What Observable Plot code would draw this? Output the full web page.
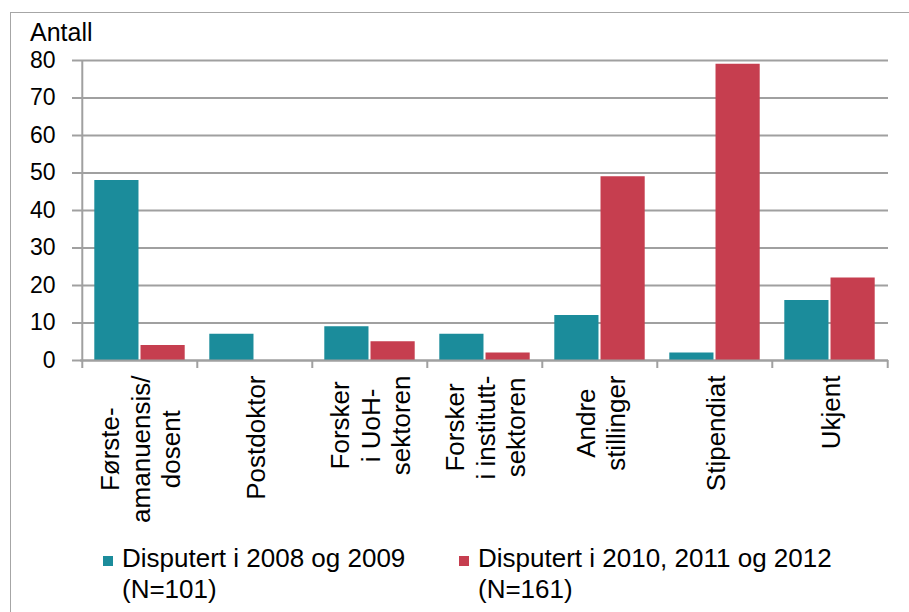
<!DOCTYPE html>
<html>
<head>
<meta charset="utf-8">
<script src="https://cdn.jsdelivr.net/npm/d3@7"></script>
<script src="https://cdn.jsdelivr.net/npm/@observablehq/plot@0.6"></script>
<style>
  html, body { margin: 0; padding: 0; background: #fff; }
  body { width: 909px; height: 612px; position: relative; overflow: hidden;
         font-family: "Liberation Sans", Arial, sans-serif; color: #000; }
  #frame { position: absolute; left: 10px; top: 12px; width: 920px; height: 620px;
           border-left: 1.5px solid #a6a6a6; border-top: 1.5px solid #a6a6a6; }
  #chart { position: absolute; left: 0; top: 0; }
  #chart svg { overflow: visible; }
  #ylabel { position: absolute; left: 30px; top: 23px; font-size: 25px; line-height: 18px; }
  .leg { position: absolute; top: 543px; display: flex; align-items: flex-start; }
  .leg .sw { width: 10px; height: 10px; margin-top: 13px; margin-right: 9px; }
  .leg .tx { font-size: 26px; line-height: 31px; white-space: pre-line; }
</style>
</head>
<body>
<div id="frame"></div>
<div id="chart"></div>
<div id="ylabel">Antall</div>
<div id="legend"></div>
<script>
// ---- data ----
const categories = [
  "Første-\namanuensis/\ndosent",
  "Postdoktor",
  "Forsker\ni UoH-\nsektoren",
  "Forsker\ni institutt-\nsektoren",
  "Andre\nstillinger",
  "Stipendiat",
  "Ukjent"
];
const seriesNames = ["Disputert i 2008 og 2009\n(N=101)", "Disputert i 2010, 2011 og 2012\n(N=161)"];
const values2008_2009 = [48, 7, 9, 7, 12, 2, 16];
const values2010_2012 = [4, 0, 5, 2, 49, 79, 22];
const yTicks = [0, 10, 20, 30, 40, 50, 60, 70, 80];
const colors = ["#1b8c9b", "#c63e4f"];

// ---- layout ----
const FONT = '"Liberation Sans", Arial, sans-serif';
const GRID = "#a0a0a0";
const W = 909, H = 540, mL = 80, mR = 21, mT = 60, mB = 180;
const step = (W - mL - mR) / categories.length;
const outerPad = 12.3, gap = 0.8;

const rows = categories.flatMap((c, i) => [
  {cat: c, s: seriesNames[0], v: values2008_2009[i]},
  {cat: c, s: seriesNames[1], v: values2010_2012[i]}
]);

const ctx = document.createElement("canvas").getContext("2d");
ctx.font = `26px ${FONT}`;
const longest = (t) => Math.max(...t.split("\n").map(l => ctx.measureText(l).width));

const labelMarks = categories.map(c => Plot.text([c], {
  x: d => d, text: d => d, frameAnchor: "bottom", rotate: -90,
  textAnchor: "middle", lineAnchor: "middle", lineHeight: 1.17,
  fontSize: 26, fill: "#000", dy: 15 + longest(c) / 2
}));

const chart = Plot.plot({
  width: W, height: H, marginLeft: mL, marginRight: mR, marginTop: mT, marginBottom: mB,
  style: {fontFamily: FONT, fontSize: "23px", color: "#000", background: "transparent", overflow: "visible"},
  x: {domain: categories, padding: 0, axis: null},
  y: {domain: [0, 80], axis: null},
  color: {domain: seriesNames, range: colors},
  marks: [
    Plot.gridY(yTicks, {stroke: GRID, strokeOpacity: 1, strokeWidth: 2}),
    Plot.axisY(yTicks, {tickSize: 8, tickPadding: 17, stroke: GRID, strokeWidth: 2, fontSize: 23, label: null}),
    Plot.barY(rows.filter(d => d.s === seriesNames[0]), {x: "cat", y: "v", fill: "s",
      insetLeft: outerPad, insetRight: step / 2 + gap}),
    Plot.barY(rows.filter(d => d.s === seriesNames[1]), {x: "cat", y: "v", fill: "s",
      insetLeft: step / 2 + gap, insetRight: outerPad}),
    Plot.ruleY([0], {stroke: GRID, strokeWidth: 2}),
    Plot.tickX([categories[0]], {x: d => d, dx: -step / 2, stroke: GRID, strokeWidth: 2, insetBottom: -8}),
    Plot.tickX(categories.slice(1), {x: d => d, dx: -step / 2, stroke: GRID, strokeWidth: 2,
      insetTop: H - mT - mB, insetBottom: -8}),
    Plot.tickX([categories[categories.length - 1]], {x: d => d, dx: step / 2, stroke: GRID, strokeWidth: 2,
      insetTop: H - mT - mB, insetBottom: -8}),
    ...labelMarks
  ]
});
document.getElementById("chart").append(chart);

// ---- legend ----
const legend = document.getElementById("legend");
const legendX = [103, 459];
seriesNames.forEach((s, i) => {
  const item = document.createElement("div");
  item.className = "leg";
  item.style.left = legendX[i] + "px";
  const sw = document.createElement("div");
  sw.className = "sw";
  sw.style.background = colors[i];
  const tx = document.createElement("div");
  tx.className = "tx";
  tx.textContent = s;
  item.append(sw, tx);
  legend.append(item);
});
</script>
</body>
</html>
